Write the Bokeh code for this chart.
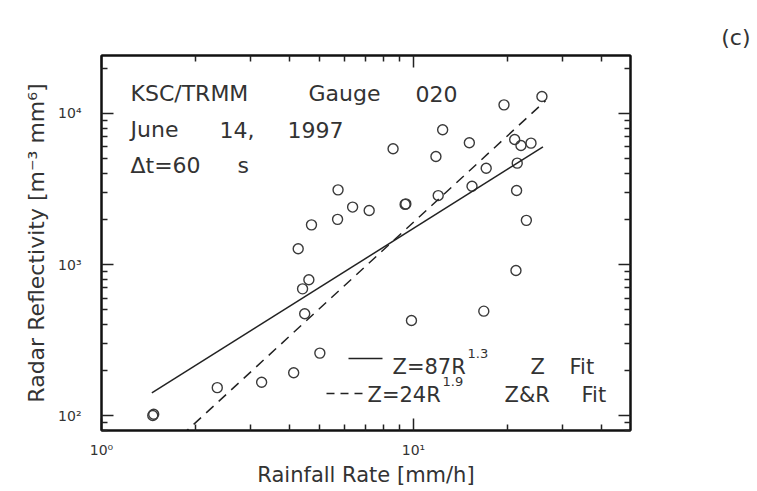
import numpy as np
from bokeh.plotting import figure
from bokeh.models import LogAxis, FixedTicker, Label, Arrow, CustomJSTickFormatter
from bokeh.embed import file_html
from bokeh.resources import INLINE

# One-minute samples at gauge 020: rain rate R [mm/h] and radar reflectivity Z [mm^6 m^-3]
rain_rate = [1.46, 1.47, 2.35, 3.26, 4.13, 5.01, 4.48, 4.41, 4.62, 4.27, 4.71,
             5.71, 5.73, 6.38, 7.21, 8.60, 9.45, 9.40, 9.85, 11.8, 12.0, 12.4,
             15.1, 15.4, 16.8, 17.1, 19.5, 21.1, 21.3, 21.4, 21.5, 22.1, 23.0,
             23.8, 25.8]
reflectivity = [100, 102, 153, 166, 192, 259, 472, 690, 792, 1270, 1830,
                1990, 3120, 2400, 2280, 5840, 2520, 2500, 426, 5190, 2860, 7800,
                6400, 3300, 491, 4340, 11400, 6730, 913, 3090, 4690, 6140, 1960,
                6360, 12960]

# Power-law fits Z = a R^b and the rain-rate span each is drawn over
z_fit_coef, z_fit_exp, z_fit_span = 87.0, 1.3, [1.45, 26.0]
zr_fit_coef, zr_fit_exp, zr_fit_span = 24.0, 1.9, [1.8, 26.5]

# Axis ticks and their labels
x_major = [1, 10]
x_major_labels = ["10\u2070", "10\u00b9"]
y_major = [100, 1000, 10000]
y_major_labels = ["10\u00b2", "10\u00b3", "10\u2074"]
x_minor = [m * 10 ** k for k in (0, 1) for m in range(2, 10)]
y_minor = [m * 10 ** k for k in (1, 2, 3, 4) for m in range(2, 10)]

W, H = 757, 491
FRAME_L, FRAME_R, FRAME_T, FRAME_B = 101, 630, 55, 430
FONT = "DejaVu Sans"
INK = "#333333"

p = figure(width=W, height=H, x_axis_type="log", y_axis_type="log",
           x_range=(1.0, 49.6), y_range=(79.6, 24200),
           min_border_left=FRAME_L, min_border_right=W - FRAME_R,
           min_border_top=FRAME_T, min_border_bottom=H - FRAME_B,
           output_backend="svg", toolbar_location=None)
p.grid.visible = False
p.outline_line_color = "#111111"
p.outline_line_width = 2
p.background_fill_color = "white"
p.border_fill_color = "white"

# Panel tag in the upper right corner
p.title.text = "(c)"
p.title.align = "right"
p.title.offset = -120
p.title.text_font = FONT
p.title.text_font_size = "22px"
p.title.text_font_style = "normal"
p.title.text_color = INK
p.title.standoff = 12

bottom_ax, left_ax = p.below[0], p.left[0]
top_ax = LogAxis(formatter=CustomJSTickFormatter(code="return ''"))
right_ax = LogAxis(formatter=CustomJSTickFormatter(code="return ''"))
p.add_layout(top_ax, "above")
p.add_layout(right_ax, "right")

for ax in (bottom_ax, top_ax):
    ax.ticker = FixedTicker(ticks=x_major, minor_ticks=x_minor)
for ax in (left_ax, right_ax):
    ax.ticker = FixedTicker(ticks=y_major, minor_ticks=y_minor)

for ax in (bottom_ax, top_ax, left_ax, right_ax):
    ax.axis_line_color = "#111111"
    ax.axis_line_width = 2
    ax.major_tick_in = 12
    ax.major_tick_out = 0
    ax.minor_tick_in = 6
    ax.minor_tick_out = 0
    ax.major_tick_line_color = "#222222"
    ax.minor_tick_line_color = "#222222"
    ax.major_tick_line_width = 1.5
    ax.minor_tick_line_width = 1.5
    ax.major_label_text_font = FONT
    ax.major_label_text_font_size = "14px"
    ax.major_label_text_color = INK

bottom_ax.major_label_overrides = dict(zip(x_major, x_major_labels))
left_ax.major_label_overrides = dict(zip(y_major, y_major_labels))
bottom_ax.major_label_standoff = 11
left_ax.major_label_standoff = 20

bottom_ax.axis_label = "Rainfall Rate [mm/h]"
left_ax.axis_label = "Radar Reflectivity [m\u207b\u00b3 mm\u2076]"
for ax in (bottom_ax, left_ax):
    ax.axis_label_text_font = FONT
    ax.axis_label_text_font_style = "normal"
    ax.axis_label_text_color = INK
bottom_ax.axis_label_text_font_size = "21px"
left_ax.axis_label_text_font_size = "22px"
bottom_ax.axis_label_standoff = 2
left_ax.axis_label_standoff = 6

# Observations
p.scatter(rain_rate, reflectivity, marker="circle", size=10,
          fill_color=None, line_color="#3a3a3a", line_width=1.4)

# Fitted power laws
r1 = np.array(z_fit_span)
p.line(r1, z_fit_coef * r1 ** z_fit_exp, line_color="#222222", line_width=1.5)
r2 = np.array(zr_fit_span)
p.line(r2, zr_fit_coef * r2 ** zr_fit_exp, line_color="#222222",
       line_width=1.5, line_dash="10 7")


def note(text, X, Y, size=21):
    """Place text with its baseline start at canvas pixel (X, Y)."""
    p.add_layout(Label(x=X - FRAME_L, y=FRAME_B - Y, x_units="screen",
                       y_units="screen", text=text, text_font=FONT,
                       text_font_size=f"{size}px", text_color=INK,
                       text_align="left", text_baseline="alphabetic"))


def stroke(X0, X1, Y, dash="solid"):
    p.add_layout(Arrow(end=None, x_start=X0 - FRAME_L, y_start=FRAME_B - Y,
                       x_end=X1 - FRAME_L, y_end=FRAME_B - Y,
                       start_units="screen", end_units="screen",
                       line_color="#222222", line_width=1.5, line_dash=dash))


# Header block
for word, X, Y in [("KSC/TRMM", 130, 93), ("Gauge", 308, 93), ("020", 415, 93),
                   ("June", 130, 129), ("14,", 219, 129), ("1997", 287, 129),
                   ("\u0394t=60", 130, 165), ("s", 237, 165)]:
    note(word, X, Y, size=22)

# Key for the two fits
stroke(348, 382, 358)
note("Z=87R", 392, 366)
note("1.3", 467, 353, size=13)
note("Z", 530, 366)
note("Fit", 569, 366)
stroke(326, 362, 393, dash="8 6")
note("Z=24R", 367, 394)
note("1.9", 442, 381, size=13)
note("Z&R", 504, 394)
note("Fit", 581, 394)

open("out.html", "w").write(file_html(p, INLINE))
